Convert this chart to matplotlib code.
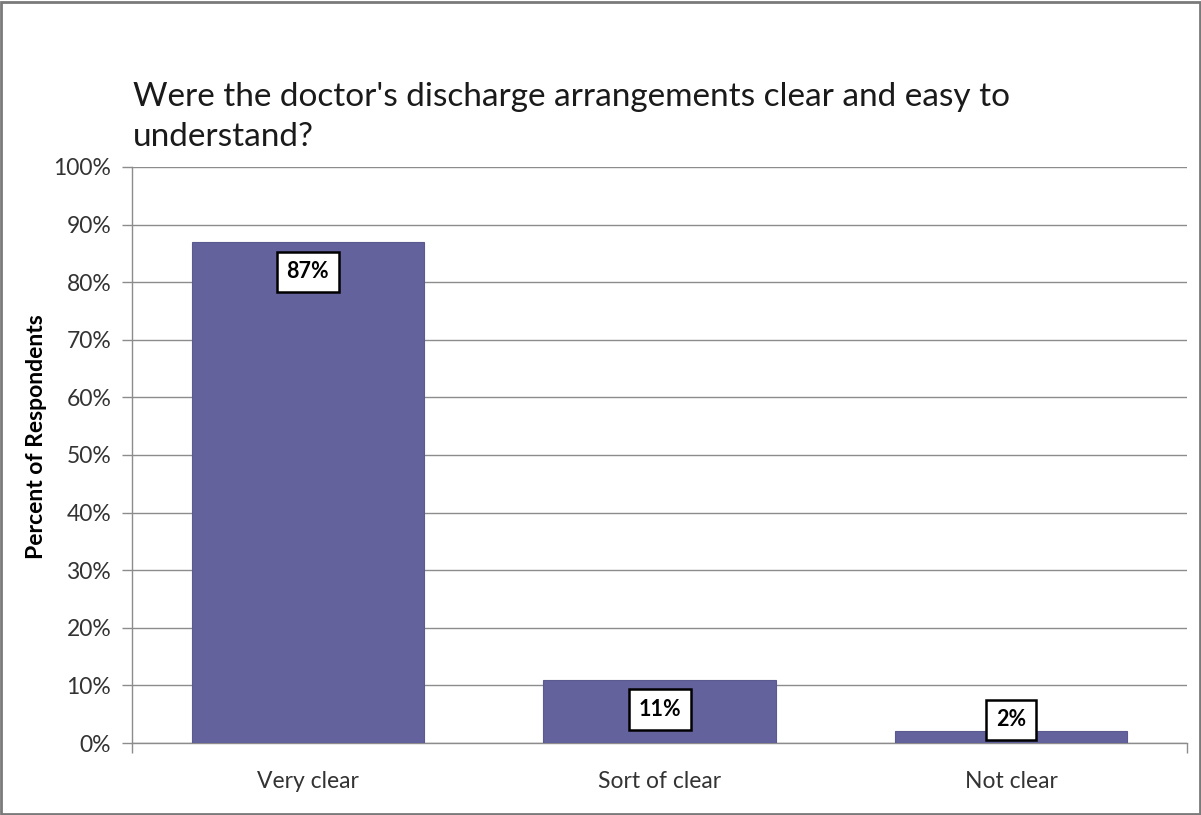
import matplotlib
matplotlib.use("Agg")
import matplotlib.pyplot as plt
from matplotlib.ticker import FixedLocator, NullFormatter
from matplotlib.patches import Rectangle

categories = ["Very clear", "Sort of clear", "Not clear"]
values = [87, 11, 2]
labels = ["87%", "11%", "2%"]
yticks = [0, 10, 20, 30, 40, 50, 60, 70, 80, 90, 100]
title = "Were the doctor's discharge arrangements clear and easy to\nunderstand?"
ylabel = "Percent of Respondents"

FONT = ["Lato", "DejaVu Sans"]
plt.rcParams['font.family'] = FONT

W, H = 1201, 815
fig = plt.figure(figsize=(W / 100, H / 100), dpi=100)
ax = fig.add_axes([132 / W, (H - 743) / H, (1187 - 132) / W, (743 - 167) / H])

x = list(range(len(categories)))
ax.bar(x, values, width=0.66, color="#63629C", edgecolor="#5A5990", linewidth=0.8, zorder=3)

ax.set_xlim(-0.5, len(categories) - 0.5)
ax.set_ylim(0, 100)

ax.set_yticks(yticks)
ax.set_yticklabels([f"{t}%" for t in yticks], fontsize=16.5, color="#333333")
ax.yaxis.grid(True, color="#8C8C8C", linewidth=1.0, zorder=0)
ax.tick_params(axis="y", length=7, width=1, color="#8C8C8C", pad=8)

ax.set_xticks(x)
ax.set_xticklabels(categories, fontsize=16.5, color="#333333")
ax.tick_params(axis="x", which="major", length=0, pad=20)
ax.xaxis.set_minor_locator(FixedLocator([-0.5, len(categories) - 0.5]))
ax.xaxis.set_minor_formatter(NullFormatter())
ax.tick_params(axis="x", which="minor", length=7, width=1, color="#8C8C8C")

for s in ["top", "right"]:
    ax.spines[s].set_visible(False)
for s in ["left", "bottom"]:
    ax.spines[s].set_color("#8C8C8C")
    ax.spines[s].set_linewidth(1.0)

for xi, v, lab in zip(x, values, labels):
    yl = max(v - 5.2, 4.0)
    ax.text(xi, yl, lab, ha="center", va="center", fontsize=15.5, fontweight="bold",
            color="black", zorder=5,
            bbox=dict(boxstyle="square,pad=0.45", facecolor="white", edgecolor="black", linewidth=1.8))

ax.set_ylabel(ylabel, fontsize=16.5, fontweight="bold", color="black")
ax.yaxis.set_label_coords((47 - 132) / 1055, (743 - 437) / 576)

fig.text(133 / W, 1 - 117 / H, title, ha="left", va="center", fontsize=24,
         color="#1a1a1a", linespacing=1.4)

fig.patches.append(Rectangle((0.001, 0.001), 0.998, 0.997, transform=fig.transFigure,
                             fill=False, edgecolor="#7a7a7a", linewidth=2))

fig.savefig("out.png", dpi=100)
